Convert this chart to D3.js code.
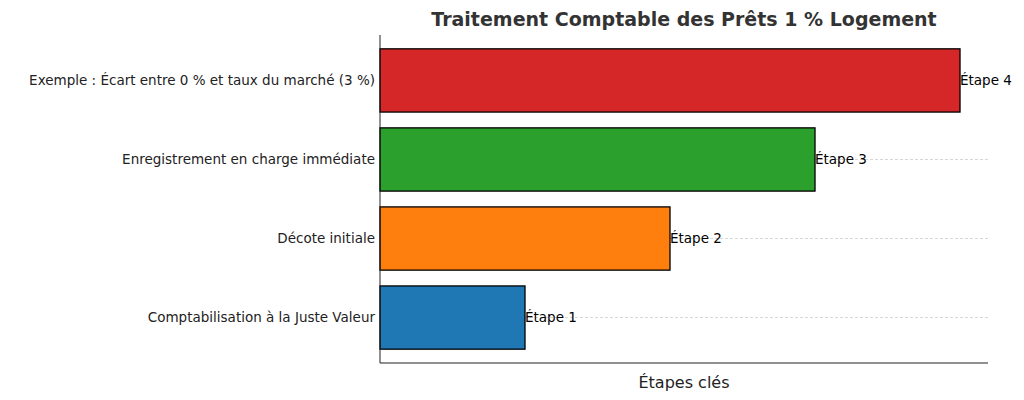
<!DOCTYPE html><html><head><meta charset="utf-8"><script src="https://cdn.jsdelivr.net/npm/d3@7"></script>
<style>body{margin:0;background:#fff}</style></head><body><svg id="c" width="1024" height="400"></svg>
<script>
const categories=["Comptabilisation à la Juste Valeur","Décote initiale","Enregistrement en charge immédiate","Exemple : Écart entre 0 % et taux du marché (3 %)"];
const values=[1,2,3,4];
const labels=["Étape 1","Étape 2","Étape 3","Étape 4"];
const colors=["#1f77b4","#ff7f0e","#2ca02c","#d62728"];
const svg=d3.select("#c"),L=380,R=988,T=35,B=363,font="DejaVu Sans, sans-serif";
const x=d3.scaleLinear().domain([0,4.193]).range([L,R]);
const y=d3.scaleLinear().domain([-0.575,3.575]).range([B,T]);
values.forEach((v,i)=>svg.append("line").attr("x1",L).attr("x2",R).attr("y1",y(i)).attr("y2",y(i)).attr("stroke","#ccc").attr("stroke-dasharray","3,2").attr("stroke-width",0.8));
svg.selectAll("rect.b").data(values).join("rect").attr("x",x(0)).attr("y",(d,i)=>y(i+0.4)).attr("width",d=>x(d)-x(0)).attr("height",y(-0.4)-y(0.4)).attr("fill",(d,i)=>colors[i]).attr("stroke","#000").attr("stroke-width",1.3);
svg.selectAll("text.v").data(values).join("text").attr("x",d=>x(d)).attr("y",(d,i)=>y(i)).attr("dy","0.35em").attr("font-family",font).attr("font-size",13.5).text((d,i)=>labels[i]);
svg.selectAll("text.c").data(categories).join("text").attr("x",L-5).attr("y",(d,i)=>y(i)).attr("dy","0.35em").attr("text-anchor","end").attr("font-family",font).attr("font-size",13.5).attr("fill","#222").text(d=>d);
svg.append("line").attr("x1",L).attr("x2",L).attr("y1",T).attr("y2",B).attr("stroke","#222");
svg.append("line").attr("x1",L).attr("x2",R).attr("y1",B).attr("y2",B).attr("stroke","#222");
svg.append("text").attr("x",(L+R)/2).attr("y",388).attr("text-anchor","middle").attr("font-family",font).attr("font-size",16).attr("fill","#222").text("Étapes clés");
svg.append("text").attr("x",(L+R)/2).attr("y",26).attr("text-anchor","middle").attr("font-family",font).attr("font-size",19).attr("font-weight","bold").attr("fill","#333").text("Traitement Comptable des Prêts 1 % Logement");
</script></body></html>
